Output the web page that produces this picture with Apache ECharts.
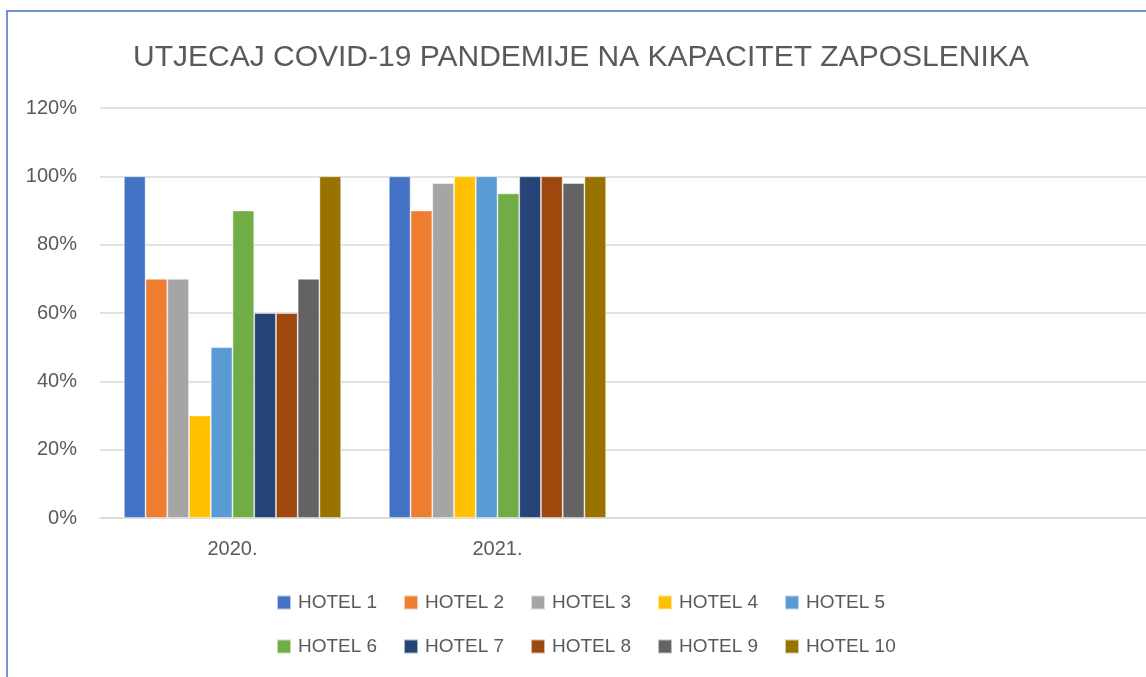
<!DOCTYPE html>
<html lang="hr">
<head>
<meta charset="UTF-8">
<title>Utjecaj COVID-19 pandemije</title>
<script src="https://cdn.jsdelivr.net/npm/echarts@6/dist/echarts.min.js"></script>
<style>
  html, body { margin: 0; padding: 0; background: #fff; overflow: hidden; }
  /* kao u originalu, grafikon je odrezan s desne strane */
  #main { width: 1160px; height: 677px; }
</style>
</head>
<body>
<div id="main"></div>
<script>
// godine (zadnje dvije kategorije su prazne, kao u originalu)
var years = ['2020.', '2021.', '', ''];
var hotels = ['HOTEL 1', 'HOTEL 2', 'HOTEL 3', 'HOTEL 4', 'HOTEL 5',
              'HOTEL 6', 'HOTEL 7', 'HOTEL 8', 'HOTEL 9', 'HOTEL 10'];
// kapacitet u % po hotelu: [2020, 2021]
var hotel1 = [100, 100];
var hotel2 = [70, 90];
var hotel3 = [70, 98];
var hotel4 = [30, 100];
var hotel5 = [50, 100];
var hotel6 = [90, 95];
var hotel7 = [60, 100];
var hotel8 = [60, 100];
var hotel9 = [70, 98];
var hotel10 = [100, 100];
var yTicks = [0, 20, 40, 60, 80, 100, 120];

var values = [hotel1, hotel2, hotel3, hotel4, hotel5, hotel6, hotel7, hotel8, hotel9, hotel10];
var colors = ['#4472C4', '#ED7D31', '#A5A5A5', '#FFC000', '#5B9BD5',
              '#70AD47', '#264478', '#9E480E', '#636363', '#997300'];

var textColor = '#595959';
var font = 'Liberation Sans';

var chart = echarts.init(document.getElementById('main'));

// legenda: dva reda po pet
var legends = hotels.map(function (name, i) {
  return {
    data: [name],
    left: 276 + (i % 5) * 127,
    top: i < 5 ? 593 : 637,
    padding: 0,
    itemWidth: 14,
    itemHeight: 14,
    itemGap: 0,
    icon: 'rect',
    selectedMode: false,
    textStyle: { color: textColor, fontSize: 19, fontFamily: font, padding: [0, 0, 0, 2] }
  };
});

var option = {
  animation: false,
  color: colors,
  title: {
    text: 'UTJECAJ COVID-19 PANDEMIJE NA KAPACITET ZAPOSLENIKA',
    left: 128,
    top: 38,
    textStyle: { color: textColor, fontSize: 30, fontWeight: 'normal', fontFamily: font }
  },
  graphic: [{
    type: 'rect',
    silent: true,
    shape: { x: 7, y: 11, width: 2000, height: 2000 },
    style: { fill: 'none', stroke: '#4472C4', lineWidth: 1.5 }
  }],
  legend: legends,
  grid: { left: 100, right: 0, top: 108, bottom: 159 },
  xAxis: {
    type: 'category',
    data: years,
    axisTick: { show: false },
    axisLine: { lineStyle: { color: '#d9d9d9', width: 1.5 } },
    axisLabel: { color: textColor, fontSize: 20, fontFamily: font, margin: 21 }
  },
  yAxis: {
    type: 'value',
    min: yTicks[0],
    max: yTicks[yTicks.length - 1],
    interval: 20,
    axisLine: { show: false },
    axisTick: { show: false },
    splitLine: { lineStyle: { color: '#d9d9d9', width: 1.5 } },
    axisLabel: { color: textColor, fontSize: 20, fontFamily: font, margin: 23, formatter: '{value}%' }
  },
  series: hotels.map(function (name, i) {
    return {
      name: name,
      type: 'bar',
      data: values[i],
      barGap: '0%',
      barCategoryGap: '18%',
      itemStyle: { borderColor: 'rgba(255,255,255,0.6)', borderWidth: 0.8 }
    };
  })
};

chart.setOption(option);
</script>
</body>
</html>
